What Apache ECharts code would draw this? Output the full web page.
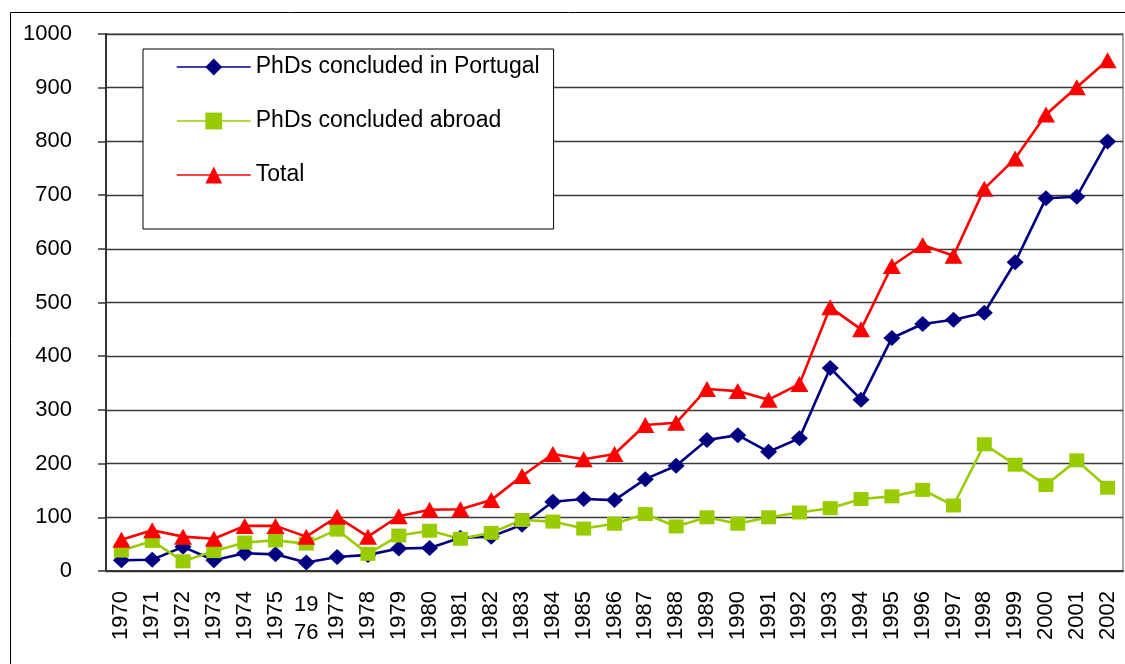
<!DOCTYPE html>
<html>
<head>
<meta charset="utf-8">
<title>PhDs concluded</title>
<script src="https://cdn.jsdelivr.net/npm/echarts@6/dist/echarts.min.js"></script>
<style>
  html, body { margin: 0; padding: 0; background: #fff; }
  #chart { width: 1125px; height: 664px; }
</style>
</head>
<body>
<div id="chart"></div>
<script>
// years on the x axis
const years = ['1970', '1971', '1972', '1973', '1974', '1975', '1976', '1977', '1978', '1979',
  '1980', '1981', '1982', '1983', '1984', '1985', '1986', '1987', '1988', '1989',
  '1990', '1991', '1992', '1993', '1994', '1995', '1996', '1997', '1998', '1999',
  '2000', '2001', '2002']

// values
const portugal = [20, 21, 45, 20, 33, 31, 16, 26, 30, 42, 43, 62, 64, 86, 129, 134, 132, 171, 196, 244,
  253, 222, 247, 378, 319, 434, 460, 468, 481, 575, 694, 697, 800]
const abroad = [38, 56, 18, 37, 53, 57, 51, 77, 32, 66, 75, 60, 71, 95, 92, 79, 88, 106, 83, 100,
  88, 100, 109, 117, 134, 139, 151, 122, 236, 198, 160, 206, 155]
const total = [58, 76, 64, 60, 84, 84, 64, 101, 64, 102, 114, 115, 132, 177, 218, 208, 218, 272, 276, 339,
  335, 319, 348, 491, 450, 568, 607, 587, 712, 768, 850, 901, 951]

const seriesNames = ['PhDs concluded in Portugal', 'PhDs concluded abroad', 'Total']

// the 1976 label is written flat on two lines in the original
const oddYear = '1976'

const font = 'Liberation Sans, Arial, sans-serif'

const chart = echarts.init(document.getElementById('chart'))

chart.setOption({
  animation: false,
  textStyle: { fontFamily: font },
  // outer frame of the chart
  graphic: [{
    type: 'rect',
    z: -10,
    shape: { x: 10.5, y: 12.5, width: 1300, height: 900 },
    style: { fill: 'none', stroke: '#000', lineWidth: 1 }
  }],
  grid: {
    left: 106,
    right: 2,
    top: 34,
    bottom: 93,
    show: true,
    borderColor: '#8a8a8a',
    borderWidth: 1.5,
    backgroundColor: '#fff'
  },
  legend: {
    orient: 'vertical',
    left: 143,
    top: 49,
    padding: [5, 14, 41, 33],
    itemGap: 28,
    itemWidth: 74,
    itemHeight: 21,
    borderColor: '#000',
    borderWidth: 1,
    backgroundColor: '#fff',
    lineStyle: { width: 1.5 },
    textStyle: { fontSize: 23, color: '#000', lineHeight: 26, fontFamily: font },
    data: seriesNames
  },
  xAxis: [{
    type: 'category',
    data: years,
    boundaryGap: true,
    axisLine: { lineStyle: { color: '#333', width: 2 } },
    axisTick: { length: 6, lineStyle: { color: '#333', width: 1.5 } },
    axisLabel: {
      rotate: 90,
      margin: 20,
      fontSize: 22,
      color: '#000',
      interval: 0,
      formatter: (v) => (v === oddYear ? '' : v)
    }
  }, {
    // second axis only to print the flat 1976 label
    type: 'category',
    data: years,
    position: 'bottom',
    axisLine: { show: false },
    axisTick: { show: false },
    axisLabel: {
      rotate: 0,
      margin: 20,
      fontSize: 22,
      lineHeight: 28,
      color: '#000',
      interval: 0,
      formatter: (v) => (v === oddYear ? '19\n76' : '')
    }
  }],
  yAxis: {
    type: 'value',
    min: 0,
    max: 1000,
    interval: 100,
    axisLine: { show: true, lineStyle: { color: '#333', width: 2 } },
    axisTick: { show: true, length: 8, lineStyle: { color: '#333', width: 1.5 } },
    axisLabel: { margin: 34, fontSize: 22, color: '#000', formatter: (v) => String(v) },
    splitLine: { lineStyle: { color: '#3a3a3a', width: 1.3 } }
  },
  series: [{
    name: seriesNames[0],
    type: 'line',
    data: portugal,
    symbol: 'diamond',
    symbolSize: [17, 16],
    color: '#000080',
    lineStyle: { width: 2.6 }
  }, {
    name: seriesNames[1],
    type: 'line',
    data: abroad,
    symbol: 'rect',
    symbolSize: [15, 14],
    color: '#99CC00',
    lineStyle: { width: 2.6 }
  }, {
    name: seriesNames[2],
    type: 'line',
    data: total,
    symbol: 'triangle',
    symbolSize: [18, 16],
    color: '#FF0000',
    lineStyle: { width: 2.6 }
  }]
})
</script>
</body>
</html>
